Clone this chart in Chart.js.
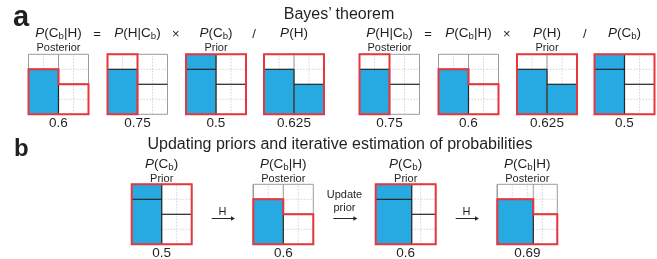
<!DOCTYPE html>
<html><head><meta charset="utf-8">
<script src="https://cdn.jsdelivr.net/npm/chart.js@4.4.1/dist/chart.umd.min.js"></script>
<style>
html,body{margin:0;padding:0;background:#fff;}
#wrap{position:relative;width:657px;height:259px;overflow:hidden;font-family:'Liberation Sans',Arial,Helvetica,sans-serif;color:#231f20;}
canvas{position:absolute;left:0;top:0;}
.t{position:absolute;transform:translate(-50%,-50%);white-space:nowrap;line-height:1;}
.t sub{font-size:72%;vertical-align:-0.18em;line-height:0;}
.panel{position:absolute;font-weight:bold;line-height:1;}
</style></head>
<body><div id="wrap"><canvas id="c" width="657" height="259"></canvas></div>
<script>
// ---------- data ----------
const pHgivenCb = 0.75;      // P(H|Cb)
const pHgivenNotCb = 0.5;    // P(H|not Cb)
const aTerms  = ['P(Cb|H)','P(H|Cb)','P(Cb)','P(H)','P(H|Cb)','P(Cb|H)','P(H)','P(Cb)'];
const aRoles  = ['Posterior','','Prior','','Posterior','','Prior',''];
const aValues = [0.6, 0.75, 0.5, 0.625, 0.75, 0.6, 0.625, 0.5];
const aPriorCb = [0.5, 0.5, 0.5, 0.5, 0.5, 0.5, 0.5, 0.5];
const aBlue = ['CbH','CbH','Cb','H','CbH','CbH','H','Cb'];
const aRed  = ['H','Cb','all','all','Cb','H','all','all'];
const aOperators = ['=', '\u00d7', '/', '=', '\u00d7', '/'];
const bTerms  = ['P(Cb)','P(Cb|H)','P(Cb)','P(Cb|H)'];
const bRoles  = ['Prior','Posterior','Prior','Posterior'];
const bValues = [0.5, 0.6, 0.6, 0.69];
const bPriorCb = [0.5, 0.5, 0.6, 0.6];
const bBlue = ['Cb','CbH','Cb','CbH'];
const bRed  = ['all','H','all','H'];
const bSteps = [['H'], ['Update','prior'], ['H']];
const titleA = 'Bayes\u2019 theorem';
const titleB = 'Updating priors and iterative estimation of probabilities';

// ---------- layout ----------
const SIZE = 60;
const aLeft = [28.5, 107.5, 186, 264, 359.5, 438.5, 517, 594.5];
const aTop = 54.3;
const bLeft = [131.7, 253.3, 375.7, 497.3];
const bTop = 184.3;
const C = {blue:'#27aae1', red:'#e8363f', dark:'#262626', grey:'#9c9c9c', grid:'#c9c9c9'};

const datasets = [];
function seg(pts, o, extra){
  datasets.push(Object.assign({data:pts, showLine:true, pointRadius:0, clip:false, fill:false,
    borderCapStyle:'butt', borderJoinStyle:'miter'}, o, extra||{}));
}
function addPanel(L, T, p, blue, red){
  const X = f => L + f*SIZE, Y = h => T + SIZE - h*SIZE;
  const P = (f,h) => ({x:X(f), y:Y(h)});
  const q1 = pHgivenCb, q0 = pHgivenNotCb;
  // grid
  [0.25,0.5,0.75].forEach(g=>{
    seg([P(g,0),P(g,1)], {order:4, borderColor:C.grid, borderWidth:0.8, borderDash:[1.5,1.5]});
    seg([P(0,g),P(1,g)], {order:4, borderColor:C.grid, borderWidth:0.8, borderDash:[1.5,1.5]});
  });
  // blue region
  let bp;
  if (blue==='Cb') bp=[P(0,1),P(p,1)];
  else if (blue==='CbH') bp=[P(0,q1),P(p,q1)];
  else bp=[P(0,q1),P(p,q1),P(p,q0),P(1,q0)];
  seg(bp, {order:3, borderWidth:0, borderColor:C.blue, backgroundColor:C.blue, fill:{value:Y(0)}});
  // grey box + divider
  seg([P(0,0),P(1,0),P(1,1),P(0,1),P(0,0)], {order:2, borderColor:C.grey, borderWidth:1, borderCapStyle:'square'});
  seg([P(p,0),P(p,1)], {order:2, borderColor:C.grey, borderWidth:1});
  // dark partition lines
  seg([P(0,q1),P(p,q1)], {order:1, borderColor:C.dark, borderWidth:1.2});
  seg([P(p,q0),P(1,q0)], {order:1, borderColor:C.dark, borderWidth:1.2});
  seg([P(p,0),P(p, blue==='Cb'?1:q1)], {order:1, borderColor:C.dark, borderWidth:1.2});
  // red outline
  let rp;
  if (red==='all') rp=[P(0.5,0),P(1,0),P(1,1),P(0,1),P(0,0),P(0.5,0)];
  else if (red==='Cb') rp=[P(p/2,0),P(p,0),P(p,1),P(0,1),P(0,0),P(p/2,0)];
  else rp=[P(0.5,0),P(1,0),P(1,q0),P(p,q0),P(p,q1),P(0,q1),P(0,0),P(0.5,0)];
  seg(rp, {order:0, borderColor:C.red, borderWidth:2});
}
aLeft.forEach((L,i)=>addPanel(L, aTop, aPriorCb[i], aBlue[i], aRed[i]));
bLeft.forEach((L,i)=>addPanel(L, bTop, bPriorCb[i], bBlue[i], bRed[i]));

// arrows between b panels
const arrowY = 218.5;
bSteps.forEach((s,i)=>{
  const x0 = bLeft[i] + SIZE + 20, x1 = bLeft[i+1] - 19;
  seg([{x:x0,y:arrowY},{x:x1-2,y:arrowY}], {order:1, borderColor:C.dark, borderWidth:1,
    pointRadius:[0,2.6], pointStyle:'triangle', rotation:90, pointBackgroundColor:C.dark, pointBorderWidth:0});
});

new Chart(document.getElementById('c'), {
  type:'scatter',
  data:{datasets},
  options:{
    responsive:false, animation:false, devicePixelRatio:1, events:[],
    layout:{padding:0, autoPadding:false},
    plugins:{legend:{display:false}, tooltip:{enabled:false}},
    scales:{
      x:{type:'linear', min:0, max:657, display:false},
      y:{type:'linear', min:0, max:259, reverse:true, display:false}
    }
  }
});

// ---------- text ----------
const wrap = document.getElementById('wrap');
function txt(html, x, y, size, extra){
  const d = document.createElement('div');
  d.className='t'; d.innerHTML=html;
  d.style.left=x+'px'; d.style.top=y+'px'; d.style.fontSize=size+'px';
  if (extra) Object.assign(d.style, extra);
  wrap.appendChild(d); return d;
}
function term(s){
  return s.replace(/^P/, '<i>P</i>').replace(/Cb/g, 'C<sub>b</sub>');
}
function fmt(v){ return String(v); }
const pa = document.createElement('div'); pa.className='panel'; pa.textContent='a';
Object.assign(pa.style,{left:'13px', top:'2px', fontSize:'29px'}); wrap.appendChild(pa);
const pb = document.createElement('div'); pb.className='panel'; pb.textContent='b';
Object.assign(pb.style,{left:'14px', top:'136px', fontSize:'24px'}); wrap.appendChild(pb);
txt(titleA, 339, 13.5, 16);
txt(titleB, 340, 143.5, 16);
aLeft.forEach((L,i)=>{
  const cx = L + SIZE/2;
  txt(term(aTerms[i]), cx, 32.5, 13.5);
  if (aRoles[i]) txt(aRoles[i], cx, 46.5, 11);
  txt(fmt(aValues[i]), cx, 122.5, 13.5);
});
const opIdx = [0,1,2,4,5,6];
aOperators.forEach((o,k)=>{
  const i = opIdx[k];
  const mid = (aLeft[i] + SIZE + aLeft[i+1]) / 2 - 1;
  txt(o, mid, 33, 13);
});
bLeft.forEach((L,i)=>{
  const cx = L + SIZE/2;
  txt(term(bTerms[i]), cx, 164, 13.5);
  txt(bRoles[i], cx, 177.5, 11);
  txt(fmt(bValues[i]), cx, 253, 13.5);
});
bSteps.forEach((s,i)=>{
  const cx = (bLeft[i] + SIZE + bLeft[i+1]) / 2;
  if (s.length===1) txt(s[0], cx, 211, 11);
  else { txt(s[0], cx, 194, 11); txt(s[1], cx, 207, 11); }
});
</script>
</body></html>
